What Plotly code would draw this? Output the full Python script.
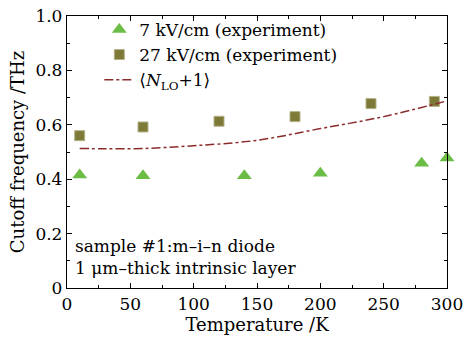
import plotly.graph_objects as go

t_7 = [10, 60, 140, 200, 280, 300]
f_7 = [0.415, 0.413, 0.413, 0.422, 0.459, 0.478]
t_27 = [10, 60, 120, 180, 240, 290]
f_27 = [0.560, 0.592, 0.613, 0.630, 0.678, 0.686]
t_nlo = [10, 30, 60, 100, 150, 200, 250, 300]
f_nlo = [0.513, 0.512, 0.513, 0.523, 0.543, 0.586, 0.630, 0.688]

FONT = "DejaVu Serif"

fig = go.Figure()
fig.add_trace(go.Scatter(x=t_7, y=f_7, mode="markers", name="7 kV/cm (experiment)",
                         marker=dict(symbol="triangle-up", size=13, color="#6cbd45"),
                         cliponaxis=False))
fig.add_trace(go.Scatter(x=t_27, y=f_27, mode="markers", name="27 kV/cm (experiment)",
                         marker=dict(symbol="square", size=10, color="#7d7936",
                                     line=dict(color="#b5b28a", width=1))))
fig.add_trace(go.Scatter(x=t_nlo, y=f_nlo, mode="lines", name="⟨<i>N</i><sub>LO</sub>+1⟩",
                         line=dict(color="#8b2b2b", width=1.5, dash="dashdot", shape="spline")))

fig.add_annotation(x=0.015, y=0.197, xref="paper", yref="paper", xanchor="left", yanchor="top",
                   align="left", showarrow=False,
                   text="sample #1:m–i–n diode<br>1 μm–thick intrinsic layer",
                   font=dict(family=FONT, size=17, color="black"))

axis_common = dict(showline=True, linecolor="black", linewidth=1.3, mirror="ticks",
                   ticks="inside", ticklen=5, tickwidth=1.2, tickcolor="black",
                   showgrid=False, zeroline=False, automargin=False,
                   ticklabeloverflow="allow",
                   tickfont=dict(family=FONT, size=17, color="black"))

fig.update_xaxes(range=[0, 300], dtick=50, title=dict(text="Temperature /K", standoff=2,
                 font=dict(family=FONT, size=18, color="black")),
                 minor=dict(ticks="inside", dtick=25, ticklen=3, tickcolor="black"),
                 **axis_common)
fig.update_yaxes(range=[0, 1.0],
                 tickvals=[0, 0.2, 0.4, 0.6, 0.8, 1.0], ticktext=["0", "0.2", "0.4", "0.6", "0.8", "1.0"],
                 title=dict(text="Cutoff frequency /THz", standoff=6,
                            font=dict(family=FONT, size=18, color="black")),
                 minor=dict(ticks="inside", dtick=0.1, ticklen=3, tickcolor="black"),
                 **axis_common)

fig.update_layout(width=463, height=338, margin=dict(l=67, r=16, t=14, b=50),
                  plot_bgcolor="white", paper_bgcolor="white",
                  showlegend=True,
                  legend=dict(x=0.085, y=1.015, xanchor="left", yanchor="top",
                              bgcolor="rgba(0,0,0,0)", itemwidth=30, tracegroupgap=0,
                              font=dict(family=FONT, size=17, color="black")))

fig.write_html("out.html", config={"displayModeBar": False},
               post_script="document.body.style.margin='0';")
